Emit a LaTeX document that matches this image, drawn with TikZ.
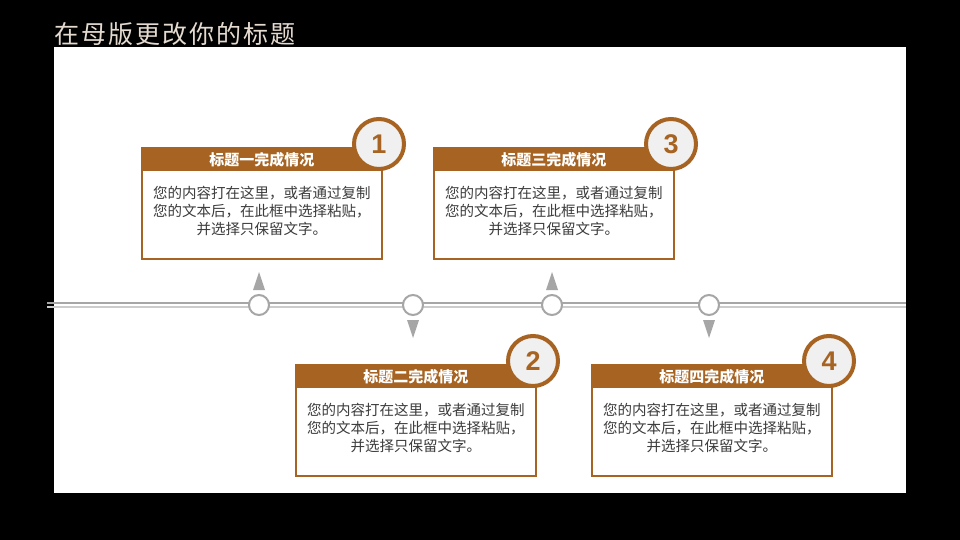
\documentclass[tikz,border=0pt]{standalone}
\usepackage{fontspec}
\setmainfont{Noto Sans CJK SC}
\newfontfamily\titlefont[LetterSpace=8]{Noto Sans CJK SC}
\newfontfamily\numfont{Liberation Sans}
\usetikzlibrary{positioning}
\definecolor{cardBrown}{RGB}{166,99,33}
\definecolor{bodyGray}{RGB}{60,60,60}
\definecolor{titleGray}{RGB}{228,218,208}
\definecolor{lineGray}{RGB}{166,166,166}
\definecolor{lineLight}{RGB}{204,204,204}
\definecolor{badgeFill}{RGB}{240,240,240}
\begin{document}
\begin{tikzpicture}
[x=1pt,y=-1pt,%
  cardBody/.style={draw=cardBrown,line width=2.5pt,fill=white,minimum width=240pt,
    minimum height=109pt,inner sep=0pt,anchor=north west},
  cardHead/.style={fill=cardBrown,minimum width=242.5pt,minimum height=24pt,inner sep=0pt,
    anchor=north,text=white,font=\bfseries\fontsize{15}{15}\selectfont},
  cardText/.style={align=center,inner sep=0pt,text=bodyGray,font=\fontsize{14.5}{18}\selectfont},
  numBadge/.style={shape=circle,draw=cardBrown,line width=4pt,fill=badgeFill,minimum size=50pt,
    inner sep=0pt,text=cardBrown,font=\numfont\bfseries\fontsize{27}{27}\selectfont},
  markDecorate/.style={shape=circle,draw=lineGray,line width=2pt,fill=white,minimum size=20pt,inner sep=0pt}]
%% background and title
\fill[black] (0,0) rectangle (960,540);
\fill[white] (54,47) rectangle (906,493);
\node[anchor=base west,inner sep=0pt,text=titleGray,font=\titlefont\fontsize{25}{25}\selectfont]
  (title) at (54,44) {在母版更改你的标题};
%% timeline
\coordinate (tlStart) at (47,305);
\coordinate (tlEnd) at (906,305);
\draw[lineGray,line width=2pt] ([yshift=2pt]tlStart) -- ([yshift=2pt]tlEnd);
\draw[lineLight,line width=1.5pt] ([yshift=-2pt]tlStart) -- ([yshift=-2pt]tlEnd);
\foreach \id/\x in {1/259, 2/413, 3/552, 4/709}
{
  \node (mark\id) at (\x,305) [markDecorate] {};
}
%% pointers
\foreach \id in {1,3}
  \fill[lineGray] ([xshift=-6pt,yshift=4pt]mark\id.north) -- ++(12,0) -- ++(-6,-18) -- cycle;
\foreach \id in {2,4}
  \fill[lineGray] ([xshift=-6pt,yshift=-4pt]mark\id.south) -- ++(12,0) -- ++(-6,18) -- cycle;
%% cards
\foreach \id/\x/\y/\ttl in {1/140.5/148.5/一, 2/294.5/365.5/二, 3/432.5/148.5/三, 4/590.5/365.5/四}
{
  \node[cardBody] (card\id) at (\x,\y) {};
  \node[cardHead] (head\id) at ([yshift=1.25pt]card\id.north) {标题\ttl 完成情况};
  \node[cardText,below=14.5pt of head\id] (text\id)
    {您的内容打在这里，或者通过复制\\您的文本后，在此框中选择粘贴，\\并选择只保留文字。};
  \node[numBadge] (badge\id) at ([xshift=-4pt,yshift=4.5pt]card\id.north east) {\id};
}
\end{tikzpicture}
\end{document}
